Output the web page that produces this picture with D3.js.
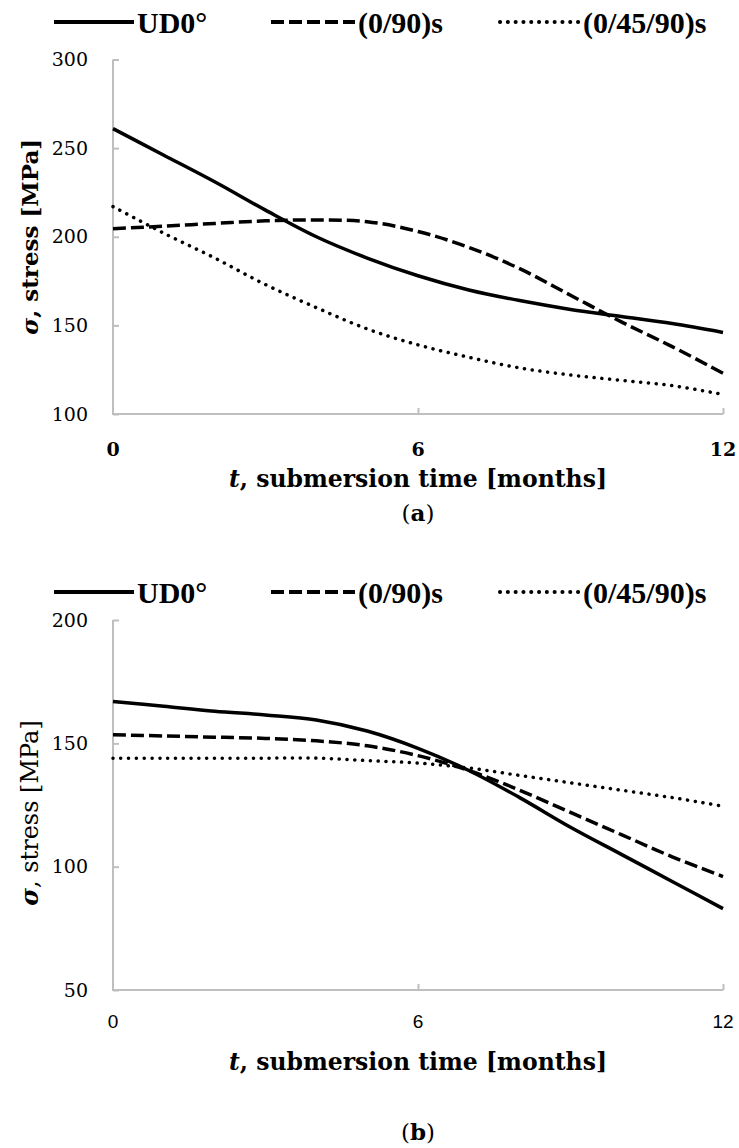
<!DOCTYPE html>
<html>
<head>
<meta charset="utf-8">
<script src="https://cdn.jsdelivr.net/npm/d3@7"></script>
<style>
  body { margin: 0; background: #fff; }
  svg { display: block; }
</style>
</head>
<body>
<div id="chart-area"></div>
<script>
const months = [0, 1, 2, 3, 4, 5, 6, 7, 8, 9, 10, 11, 12];

// panel (a)
const aUD0 = [261, 246, 231, 215, 200, 188, 178, 170, 164, 159, 155, 151, 146];
const a090 = [204.5, 206, 207.5, 209, 209.5, 208.5, 203, 194, 182, 167, 152, 138, 123];
const a04590 = [217, 202, 188, 173, 160, 148, 139, 132, 126, 122, 119, 116, 111];

// panel (b)
const bUD0 = [167, 165, 163, 161.5, 159.5, 155, 148, 139, 128, 116, 105, 94, 83];
const b090 = [153.5, 153, 152.5, 152, 151, 149, 145, 139, 131, 122, 113, 104, 96];
const b04590 = [144, 144, 144, 144, 144, 143, 142, 140, 137, 134, 131, 128, 124.5];

const seriesNames = ['UD0°', '(0/90)s', '(0/45/90)s'];
const xTicks = [0, 6, 12];
const aYTicks = [100, 150, 200, 250, 300];
const bYTicks = [50, 100, 150, 200];

const W = 739, H = 1148;
const serif = "'DejaVu Serif', serif";
const legendFont = "'Liberation Serif', serif";
const sans = "'Liberation Sans', 'Open Sans', sans-serif";

const styles = [
  { dash: null, cap: 'butt' },
  { dash: '13,5', cap: 'butt' },
  { dash: '0.1,7.7', cap: 'round' }
];

let svg = d3.select('#chart-area')
  .append('svg')
  .attr('width', W)
  .attr('height', H)

const panels = [
  { series: [aUD0, a090, a04590], yDomain: [100, 300], yTicks: aYTicks, top: 59.5, bottom: 414,
    legendY: 22, xBold: true, xFont: serif, xLabY: 42, yTitleBold: true, tag: 'a', tagY: 521, titleY: 487 },
  { series: [bUD0, b090, b04590], yDomain: [50, 200], yTicks: bYTicks, top: 620, bottom: 990,
    legendY: 592, xBold: false, xFont: sans, xLabY: 38, yTitleBold: false, tag: 'b', tagY: 1140, titleY: 1070 }
];

panels.forEach(p => drawPanel(p));

function drawPanel(p) {
  let x = d3.scaleLinear().domain([0, 12]).range([113, 723])
  let y = d3.scaleLinear().domain(p.yDomain).range([p.bottom, p.top])

  let g = svg.append('g')

  // axes, ticks pointing into the plot
  g.append('g')
    .attr('transform', `translate(${x(0)}, 0)`)
    .call(d3.axisRight(y).tickValues(p.yTicks).tickSize(6).tickFormat(''))
  g.append('g')
    .attr('transform', `translate(0, ${p.bottom})`)
    .call(d3.axisTop(x).tickValues(xTicks.slice(1)).tickSize(6).tickFormat(''))
  g.selectAll('.domain').remove()
  g.selectAll('.tick line').attr('stroke', '#bfbfbf').attr('stroke-width', 2)
  g.append('path')
    .attr('d', `M${x(0)},${p.top}V${p.bottom}H${x(12)}`)
    .attr('fill', 'none')
    .attr('stroke', '#bfbfbf')
    .attr('stroke-width', 2)

  // tick labels
  g.selectAll('.ylab')
    .data(p.yTicks)
    .join('text')
    .attr('x', 88)
    .attr('y', d => y(d))
    .attr('dy', '0.35em')
    .attr('text-anchor', 'end')
    .style('font', `19px ${serif}`)
    .text(d => d)

  g.selectAll('.xlab')
    .data(xTicks)
    .join('text')
    .attr('x', d => x(d))
    .attr('y', p.bottom + p.xLabY)
    .attr('text-anchor', 'middle')
    .style('font', `${p.xBold ? 'bold ' : ''}19px ${p.xFont}`)
    .text(d => d)

  // axis titles
  let xt = g.append('text')
    .attr('x', (x(0) + x(12)) / 2)
    .attr('y', p.titleY)
    .attr('text-anchor', 'middle')
    .style('font', `bold 23.5px ${serif}`)
  xt.append('tspan').style('font-style', 'italic').text('t')
  xt.append('tspan').text(', submersion time [months]')

  let yt = g.append('text')
    .attr('transform', `translate(38, ${(p.top + p.bottom) / 2 + (p.yTitleBold ? 0 : 8)}) rotate(-90)`)
    .attr('text-anchor', 'middle')
    .style('font', `${p.yTitleBold ? 'bold 23px' : '24px'} ${serif}`)
  yt.append('tspan').style('font-style', 'italic').style('font-weight', 'bold').text('σ')
  yt.append('tspan').text(', stress [MPa]')

  g.append('text')
    .attr('x', (x(0) + x(12)) / 2)
    .attr('y', p.tagY)
    .attr('text-anchor', 'middle')
    .style('font', `23px ${serif}`)
    .html('(<tspan font-weight="bold">' + p.tag + '</tspan>)')

  // lines
  let line = d3.line()
    .x((d, i) => x(months[i]))
    .y(d => y(d))
    .curve(d3.curveCatmullRom.alpha(0.5))

  p.series.forEach((s, i) => {
    g.append('path')
      .datum(s)
      .attr('d', line)
      .attr('fill', 'none')
      .attr('stroke', '#000')
      .attr('stroke-width', 3.5)
      .attr('stroke-linecap', styles[i].cap)
      .attr('stroke-dasharray', styles[i].dash)
  })

  // legend
  const legendX = [54, 271, 500];
  const legendLen = [80, 84, 80];
  let lg = g.append('g')
  seriesNames.forEach((name, i) => {
    lg.append('line')
      .attr('x1', legendX[i]).attr('x2', legendX[i] + legendLen[i])
      .attr('y1', p.legendY).attr('y2', p.legendY)
      .attr('stroke', '#000')
      .attr('stroke-width', 4)
      .attr('stroke-linecap', styles[i].cap)
      .attr('stroke-dasharray', styles[i].dash)
    lg.append('text')
      .attr('x', legendX[i] + legendLen[i] + 3)
      .attr('y', p.legendY)
      .attr('dy', '0.35em')
      .style('font', `bold 30px ${legendFont}`)
      .text(name)
  })
}
</script>
</body>
</html>
